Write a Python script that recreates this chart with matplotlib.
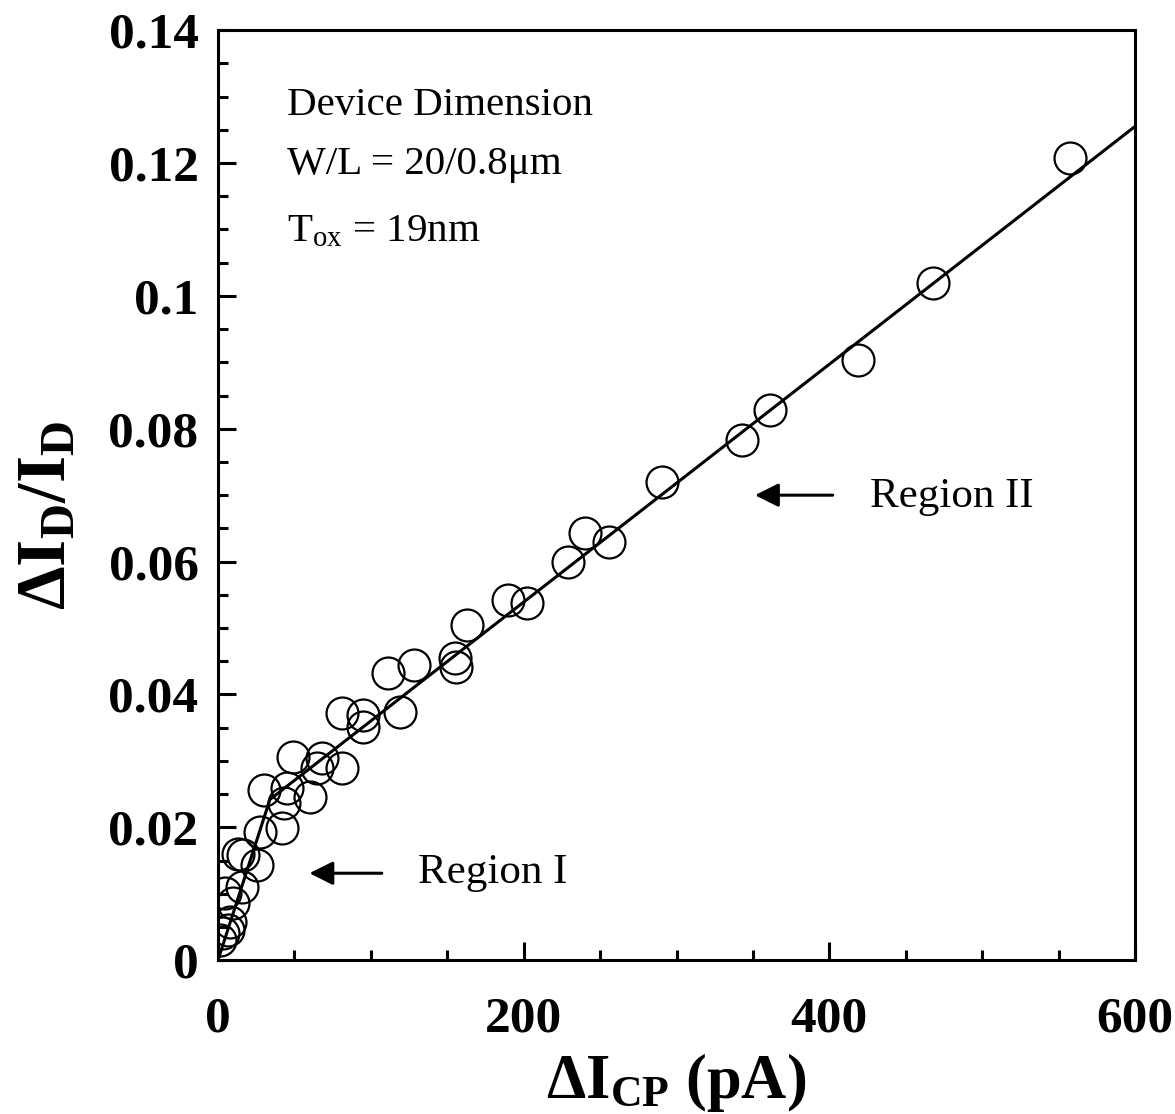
import matplotlib
matplotlib.use("Agg")
import matplotlib.pyplot as plt
import numpy as np

plt.rcParams['font.family'] = ['Liberation Serif', 'DejaVu Serif']
plt.rcParams['mathtext.fontset'] = 'custom'
plt.rcParams['mathtext.rm'] = 'Liberation Serif'
plt.rcParams['mathtext.it'] = 'Liberation Serif:italic'
plt.rcParams['mathtext.bf'] = 'Liberation Serif:bold'

# Measured data (delta I_CP in pA, delta I_D / I_D)
icp = [557.6, 468, 419, 361, 343, 290.6, 240, 256, 229, 190, 202, 163,
       155, 156, 111, 128, 81, 95, 95, 119, 49, 68, 81, 65, 30, 45, 43, 60,
       42, 27.5, 16.4, 25.5, 15.7, 10, 8, 3, 6.5, 4.6, 13, 1.5]
did = [0.1208, 0.1019, 0.0903, 0.0828, 0.0783, 0.0720, 0.0643, 0.0629, 0.0599,
       0.0542, 0.0537, 0.0504, 0.0455, 0.0441, 0.0432, 0.0444, 0.0372, 0.0369,
       0.0351, 0.0373, 0.0306, 0.0304, 0.0289, 0.0290, 0.0256, 0.0259, 0.0236,
       0.0245, 0.0199, 0.0193, 0.0158, 0.0143, 0.0110, 0.0086, 0.0057, 0.0041,
       0.0045, 0.0101, 0.0160, 0.0030]

# Piecewise linear fit (Region I and Region II)
fit_x = [0, 34, 600]
fit_y = [0, 0.0242, 0.1255]

xticks = [0, 200, 400, 600]
yticks = [0, 0.02, 0.04, 0.06, 0.08, 0.1, 0.12, 0.14]
ytick_labels = ['0', '0.02', '0.04', '0.06', '0.08', '0.1', '0.12', '0.14']

fig = plt.figure(figsize=(11.75, 11.14), dpi=100)
ax = fig.add_axes([0.1855, 0.138, 0.7805, 0.835])

ax.plot(fit_x, fit_y, color='black', lw=2.2, zorder=2)
ax.plot(icp, did, linestyle='none', marker='o', ms=23, mfc='none',
        mec='black', mew=1.6, zorder=3)

ax.set_xlim(0, 600)
ax.set_ylim(0, 0.14)
ax.set_xticks(xticks)
ax.set_xticklabels([str(v) for v in xticks])
ax.set_yticks(yticks)
ax.set_yticklabels(ytick_labels)
ax.set_xticks(np.arange(0, 601, 50), minor=True)
ax.set_yticks(np.arange(0, 0.1401, 0.005), minor=True)

ax.tick_params(which='both', direction='in', top=False, right=False, width=2.2)
ax.tick_params(which='major', length=13)
ax.tick_params(which='minor', length=7)
ax.tick_params(axis='x', which='major', pad=26)
ax.tick_params(axis='y', which='major', pad=14)
for lab in ax.get_xticklabels() + ax.get_yticklabels():
    lab.set_fontsize(37)
    lab.set_fontweight('bold')
for sp in ax.spines.values():
    sp.set_linewidth(2.2)

ax.set_xlabel(r'$\mathbf{\Delta I}_{\mathbf{CP}}$ $\mathbf{(pA)}$', fontsize=45)
ax.xaxis.set_label_coords(0.5, -0.098)
ax.set_ylabel(r'$\mathbf{\Delta I_{D}/I_{D}}$', fontsize=50)
ax.yaxis.set_label_coords(-0.15, 0.478)

ax.text(45, 0.1287, 'Device Dimension', fontsize=29.5, va='center', ha='left')
ax.text(45, 0.1197, 'W/L = 20/0.8μm', fontsize=29.5, va='center', ha='left')
ax.text(45, 0.1096, r'T$_{\mathrm{ox}}$ = 19nm', fontsize=29.5, va='center', ha='left')

ax.text(426.7, 0.0697, 'Region II', fontsize=31, va='center', ha='left')
ax.annotate('', xy=(349.5, 0.0700), xytext=(404, 0.0700),
            arrowprops=dict(arrowstyle='-|>', mutation_scale=36, lw=2.2, color='black'))
ax.text(131, 0.0131, 'Region I', fontsize=31, va='center', ha='left')
ax.annotate('', xy=(58, 0.0131), xytext=(109, 0.0131),
            arrowprops=dict(arrowstyle='-|>', mutation_scale=36, lw=2.2, color='black'))

fig.savefig('out.png', dpi=100)
